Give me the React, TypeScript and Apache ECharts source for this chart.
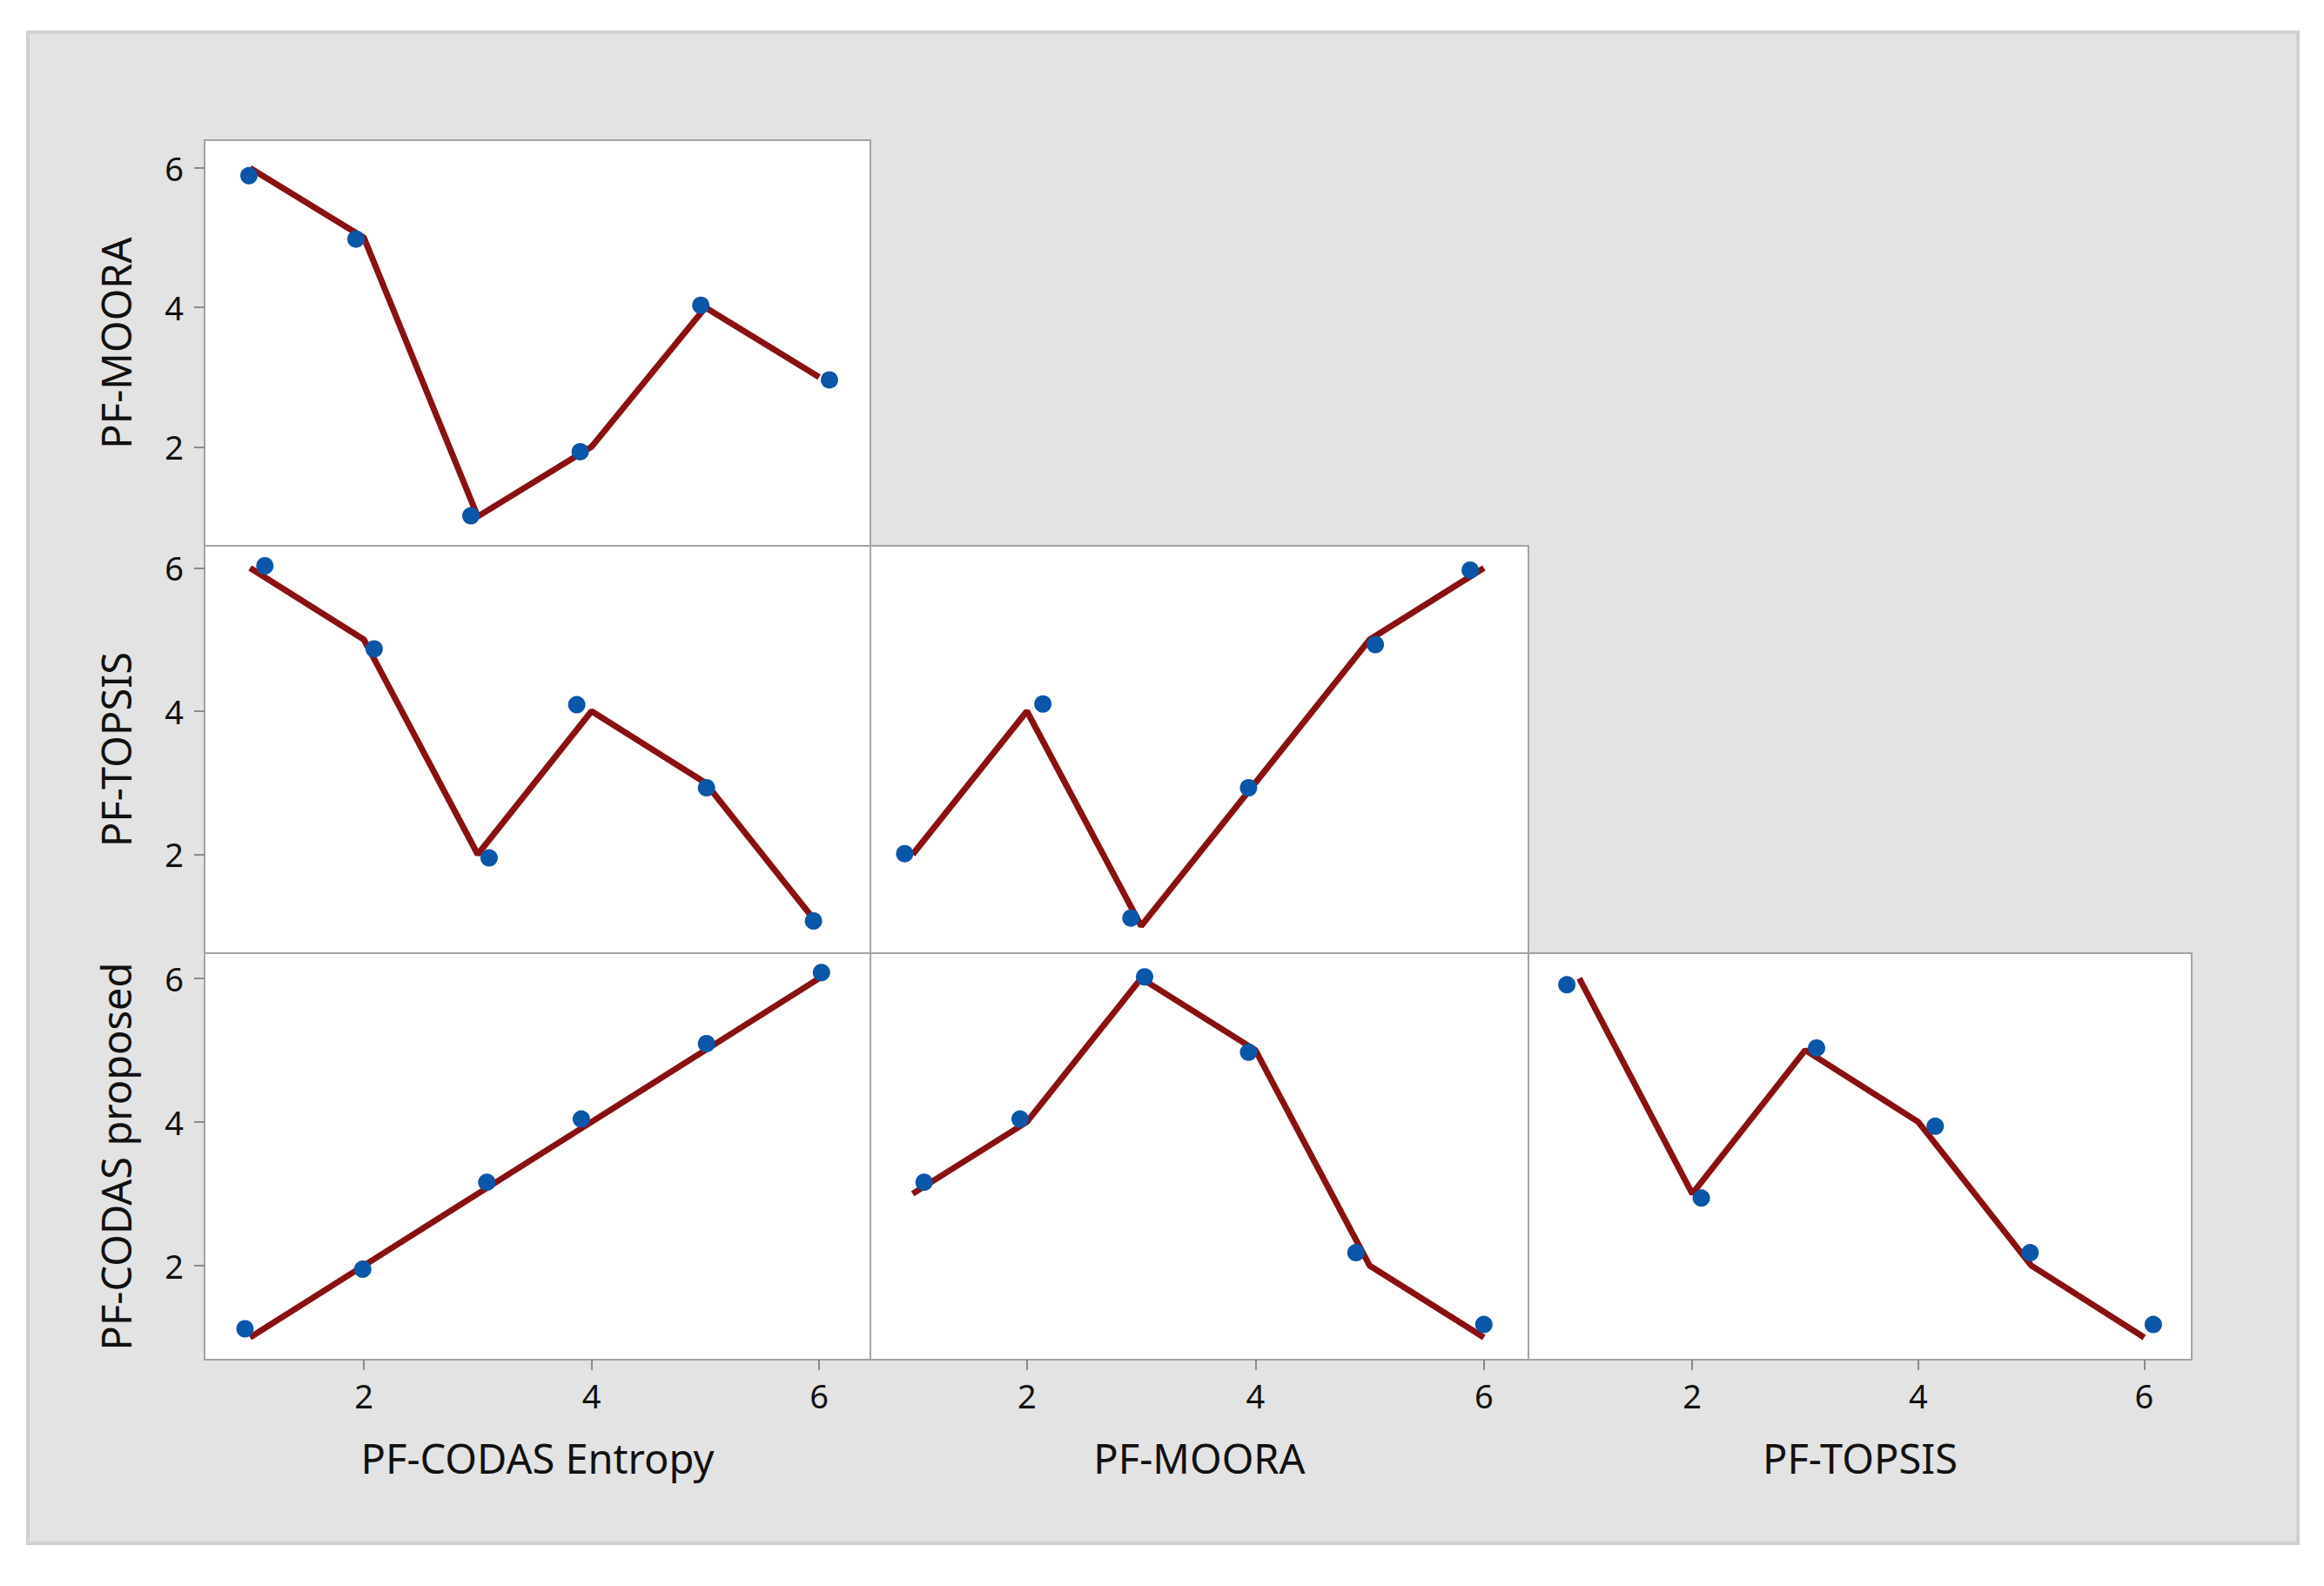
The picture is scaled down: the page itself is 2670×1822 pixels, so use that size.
import React, { useEffect, useRef } from "react";
import * as echarts from "echarts";

// Ranks of the six alternatives under each method
const entropyRank = [1, 2, 3, 4, 5, 6];
const mooraRank = [6, 5, 1, 2, 4, 3];
const topsisRank = [6, 5, 2, 4, 3, 1];
const proposedRank = [1, 2, 3, 4, 5, 6];

const variableNames = ["PF-CODAS Entropy", "PF-MOORA", "PF-TOPSIS", "PF-CODAS proposed"];
const tickValues = [2, 4, 6];

// Jittered points as drawn in each panel
const mooraVsEntropyX = [0.99, 1.93, 2.94, 3.9, 4.96, 6.09];
const mooraVsEntropyY = [5.89, 4.98, 1.01, 1.93, 4.03, 2.96];
const topsisVsEntropyX = [1.13, 2.09, 3.1, 3.87, 5.01, 5.95];
const topsisVsEntropyY = [6.03, 4.87, 1.95, 4.09, 2.93, 1.07];
const topsisVsMooraX = [0.93, 2.14, 2.91, 3.94, 5.05, 5.88];
const topsisVsMooraY = [2.01, 4.1, 1.11, 2.93, 4.93, 5.97];
const proposedVsEntropyX = [0.955, 1.99, 3.08, 3.91, 5.01, 6.02];
const proposedVsEntropyY = [1.12, 1.95, 3.16, 4.04, 5.09, 6.08];
const proposedVsMooraX = [1.1, 1.94, 3.03, 3.94, 4.88, 6.0];
const proposedVsMooraY = [3.16, 4.04, 6.02, 4.97, 2.18, 1.18];
const proposedVsTopsisX = [0.89, 2.08, 3.1, 4.15, 4.99, 6.08];
const proposedVsTopsisY = [5.91, 2.94, 5.03, 3.94, 2.18, 1.18];

const rankByVar = [entropyRank, mooraRank, topsisRank, proposedRank];

const panels = [
  { row: 0, col: 0, jx: mooraVsEntropyX, jy: mooraVsEntropyY },
  { row: 1, col: 0, jx: topsisVsEntropyX, jy: topsisVsEntropyY },
  { row: 1, col: 1, jx: topsisVsMooraX, jy: topsisVsMooraY },
  { row: 2, col: 0, jx: proposedVsEntropyX, jy: proposedVsEntropyY },
  { row: 2, col: 1, jx: proposedVsMooraX, jy: proposedVsMooraY },
  { row: 2, col: 2, jx: proposedVsTopsisX, jy: proposedVsTopsisY },
];

// Layout (pixels)
const colLeft = [235, 1000, 1756];
const colWidth = [765, 756, 762];
const rowTop = [161, 627, 1095];
const rowHeight = [466, 468, 467];
const colRange = [
  [0.6, 6.45],
  [0.63, 6.39],
  [0.55, 6.42],
];
const rowRange = [
  [0.58, 6.4],
  [0.62, 6.31],
  [0.69, 6.35],
];

const FONT = "Noto Sans";
const LINE_COLOR = "#8a1111";
const POINT_COLOR = "#0a56a8";
const BORDER_COLOR = "#a3a3a3";
const TEXT_COLOR = "#111111";

export default function App() {
  const ref = useRef<HTMLDivElement>(null);

  useEffect(() => {
    if (!ref.current) return;
    const chart = echarts.init(ref.current, null, { renderer: "svg" });

    const grids: any[] = [];
    const xAxes: any[] = [];
    const yAxes: any[] = [];
    const series: any[] = [];

    panels.forEach((p, i) => {
      grids.push({
        show: true,
        left: colLeft[p.col],
        top: rowTop[p.row],
        width: colWidth[p.col],
        height: rowHeight[p.row],
        backgroundColor: "#ffffff",
        borderColor: BORDER_COLOR,
        borderWidth: 2,
        containLabel: false,
        outerBoundsMode: "none",
      });
      const showX = p.row === 2;
      const showY = p.col === 0;
      xAxes.push({
        type: "value",
        gridIndex: i,
        min: colRange[p.col][0],
        max: colRange[p.col][1],
        axisLine: { show: false },
        splitLine: { show: false },
        axisTick: {
          show: showX,
          customValues: tickValues,
          length: 12,
          lineStyle: { color: "#8a8a8a", width: 2 },
        },
        axisLabel: {
          show: showX,
          customValues: tickValues,
          margin: 22,
          fontSize: 38,
          fontFamily: FONT,
          color: TEXT_COLOR,
        },
      });
      yAxes.push({
        type: "value",
        gridIndex: i,
        min: rowRange[p.row][0],
        max: rowRange[p.row][1],
        axisLine: { show: false },
        splitLine: { show: false },
        axisTick: {
          show: showY,
          customValues: tickValues,
          length: 12,
          lineStyle: { color: "#8a8a8a", width: 2 },
        },
        axisLabel: {
          show: showY,
          customValues: tickValues,
          margin: 24,
          fontSize: 38,
          fontFamily: FONT,
          color: TEXT_COLOR,
        },
      });

      const xr = rankByVar[p.col];
      const yr = rankByVar[p.row + 1];
      const lineData = xr
        .map((x, k) => [x, yr[k]])
        .sort((a, b) => a[0] - b[0]);
      series.push({
        type: "line",
        xAxisIndex: i,
        yAxisIndex: i,
        data: lineData,
        showSymbol: false,
        symbol: "none",
        lineStyle: { color: LINE_COLOR, width: 7, opacity: 1 },
        z: 2,
        silent: true,
      });
      series.push({
        type: "scatter",
        xAxisIndex: i,
        yAxisIndex: i,
        data: p.jx.map((x, k) => [x, p.jy[k]]),
        symbol: "circle",
        symbolSize: 20,
        itemStyle: { color: POINT_COLOR, opacity: 1 },
        z: 3,
        silent: true,
      });
    });

    const titleStyle = (text: string) => ({
      text,
      fontSize: 47,
      fontFamily: FONT,
      fill: TEXT_COLOR,
      align: "center",
      verticalAlign: "middle",
      textAlign: "center",
      textVerticalAlign: "middle",
    });

    const graphics: any[] = [
      {
        type: "rect",
        z: -100,
        silent: true,
        shape: { x: 32, y: 37, width: 2608, height: 1736 },
        style: { fill: "#e3e3e3", stroke: "#d0d0d0", lineWidth: 4 },
      },
    ];
    for (let c = 0; c < 3; c++) {
      graphics.push({
        type: "text",
        z: 100,
        x: colLeft[c] + colWidth[c] / 2,
        y: 1675,
        style: titleStyle(variableNames[c]),
      });
    }
    for (let r = 0; r < 3; r++) {
      graphics.push({
        type: "text",
        z: 100,
        x: 133,
        y: rowTop[r] + rowHeight[r] / 2,
        rotation: Math.PI / 2,
        style: titleStyle(variableNames[r + 1]),
      });
    }

    chart.setOption({
      animation: false,
      backgroundColor: "#ffffff",
      grid: grids,
      xAxis: xAxes,
      yAxis: yAxes,
      series,
      graphic: graphics,
    });

    return () => chart.dispose();
  }, []);

  return (
    <div
      ref={ref}
      style={{ position: "fixed", left: 0, top: 0, width: 2670, height: 1822 }}
    />
  );
}
